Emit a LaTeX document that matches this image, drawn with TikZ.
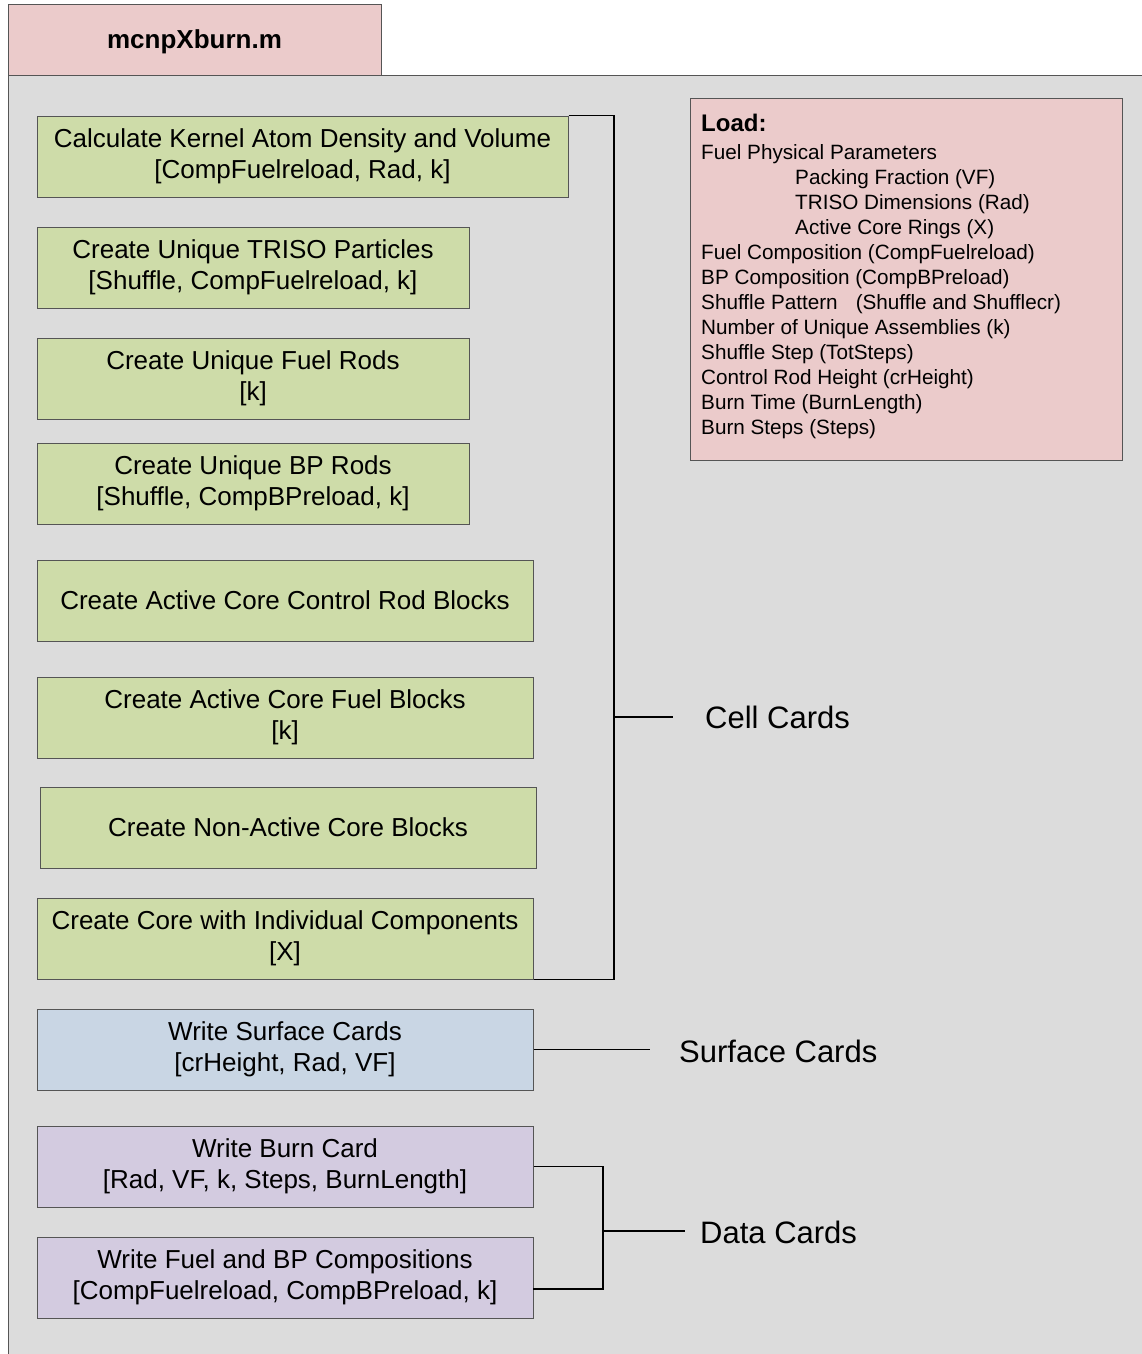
\documentclass[tikz,border=0pt]{standalone}
\usepackage{fontspec}
\setmainfont{Liberation Sans}
\definecolor{panelgray}{HTML}{DCDCDC}
\definecolor{tabpink}{HTML}{EBCBCB}
\definecolor{cellgreen}{HTML}{CEDCA9}
\definecolor{surfblue}{HTML}{C9D6E4}
\definecolor{datapurple}{HTML}{D3CBE0}
\definecolor{edgegray}{HTML}{555555}
\tikzset{
  stepbox/.style={draw=edgegray, line width=1pt, align=center, inner sep=0pt,
    font=\fontsize{26}{31}\selectfont},
  cellbox/.style={stepbox, fill=cellgreen},
  surfbox/.style={stepbox, fill=surfblue},
  databox/.style={stepbox, fill=datapurple},
  bracket/.style={draw=black, line width=1.8pt},
  grouplabel/.style={anchor=west, inner sep=0pt, font=\fontsize{31}{36}\selectfont},
}
\begin{document}
\begin{tikzpicture}[x=1pt,y=-1pt]
\useasboundingbox (0,0) rectangle (1142,1354);
\fill[white] (0,0) rectangle (1142,1354);
% main panel
\fill[panelgray] (8,75) rectangle (1142,1354);
\draw[edgegray, line width=1pt] (8,1354) -- (8,75) -- (1142,75);
% title tab
\node[draw=edgegray, line width=1pt, fill=tabpink, minimum width=373pt, minimum height=70pt,
  inner sep=0pt] (title) at (194.5,40) {};
\node[inner sep=0pt, font=\fontsize{26}{30}\selectfont\bfseries] (titletxt) at (194.5,42) {mcnpXburn.m};

% cell card steps
\node[cellbox, minimum width=531pt, minimum height=81pt] (c1) at (302.5,156.5)
  {Calculate Kernel Atom Density and Volume\\{}[CompFuelreload, Rad, k]};
\node[cellbox, minimum width=432pt, minimum height=81pt] (c2) at (253,267.5)
  {Create Unique TRISO Particles\\{}[Shuffle, CompFuelreload, k]};
\node[cellbox, minimum width=432pt, minimum height=81pt] (c3) at (253,378.5)
  {Create Unique Fuel Rods\\{}[k]};
\node[cellbox, minimum width=432pt, minimum height=81pt] (c4) at (253,483.5)
  {Create Unique BP Rods\\{}[Shuffle, CompBPreload, k]};
\node[cellbox, minimum width=496pt, minimum height=81pt] (c5) at (285,600.5)
  {Create Active Core Control Rod Blocks};
\node[cellbox, minimum width=496pt, minimum height=81pt] (c6) at (285,717.5)
  {Create Active Core Fuel Blocks\\{}[k]};
\node[cellbox, minimum width=496pt, minimum height=81pt] (c7) at (288,827.5)
  {Create Non-Active Core Blocks};
\node[cellbox, minimum width=496pt, minimum height=81pt] (c8) at (285,938.5)
  {Create Core with Individual Components\\{}[X]};

% surface and data card steps
\node[surfbox, minimum width=496pt, minimum height=81pt] (s1) at (285,1049.5)
  {Write Surface Cards\\{}[crHeight, Rad, VF]};
\node[databox, minimum width=496pt, minimum height=81pt] (d1) at (285,1166.5)
  {Write Burn Card\\{}[Rad, VF, k, Steps, BurnLength]};
\node[databox, minimum width=496pt, minimum height=81pt] (d2) at (285,1277.5)
  {Write Fuel and BP Compositions\\{}[CompFuelreload, CompBPreload, k]};

% group labels
\node[grouplabel] (cell) at (705,717) {Cell Cards};
\node[grouplabel] (surf) at (679,1051) {Surface Cards};
\node[grouplabel] (data) at (700,1232) {Data Cards};

% brackets
\coordinate (cellmid) at (614,717);
\coordinate (cellend) at (673,717);
\draw[bracket] (c1.north east) -- (c1.north east -| cellmid) -- (c8.south east -| cellmid) -- (c8.south east);
\draw[bracket] (cellmid) -- (cellend);
\coordinate (surfend) at (650,1050);
\draw[bracket] (s1.east) -- (s1.east -| surfend);
\coordinate (datamid) at (603,1231);
\coordinate (dataend) at (685,1231);
\coordinate (datalow) at (533,1289);
\draw[bracket] (d1.east) -- (d1.east -| datamid) -- (datalow -| datamid) -- (datalow);
\draw[bracket] (datamid) -- (dataend);

% load box
\node[draw=edgegray, line width=1pt, fill=tabpink, minimum width=432pt, minimum height=362pt,
  inner sep=0pt] (loadbox) at (906,279) {};
\node[anchor=north west, align=left, inner sep=0pt, font=\fontsize{20.7}{25}\selectfont] (loadtxt) at (701,114)
  {{\fontsize{24}{29}\selectfont\bfseries Load:}\\[3pt]
   Fuel Physical Parameters\\
   \hspace*{94pt}Packing Fraction (VF)\\
   \hspace*{94pt}TRISO Dimensions (Rad)\\
   \hspace*{94pt}Active Core Rings (X)\\
   Fuel Composition (CompFuelreload)\\
   BP Composition (CompBPreload)\\
   Shuffle Pattern\hspace{18pt}(Shuffle and Shufflecr)\\
   Number of Unique Assemblies (k)\\
   Shuffle Step (TotSteps)\\
   Control Rod Height (crHeight)\\
   Burn Time (BurnLength)\\
   Burn Steps (Steps)};
\end{tikzpicture}
\end{document}
